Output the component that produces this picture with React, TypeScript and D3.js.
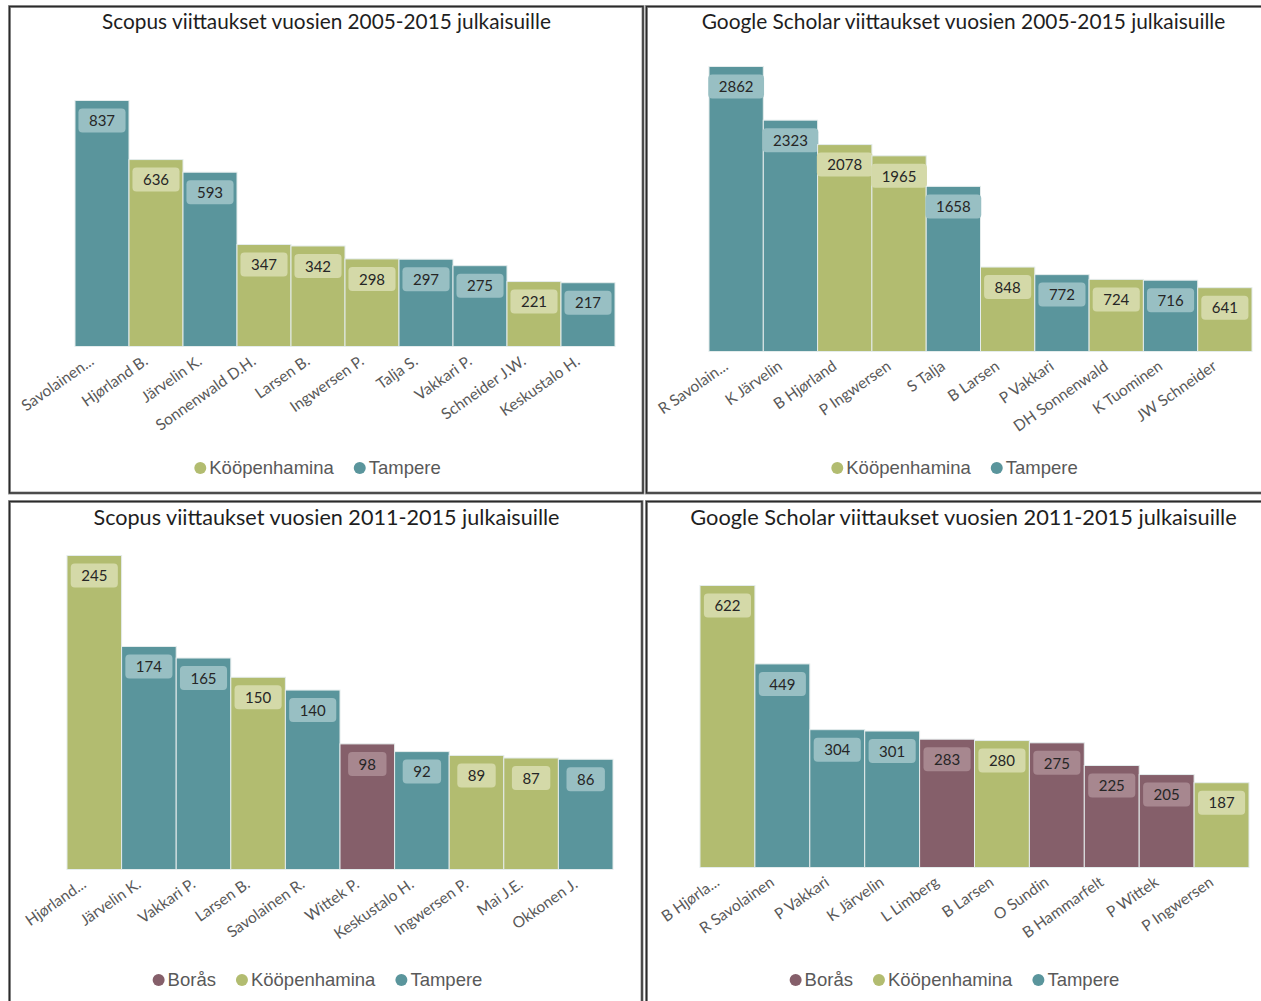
import React from "react";
import * as d3 from "d3";

// ---- data ----
const groups = ["Borås", "Kööpenhamina", "Tampere"];
const groupColors = ["#855F6A", "#B2BC70", "#5A959C"];
const labelBoxColors = ["#A7878F", "#D4D9A8", "#98BFC3"];

const titles = [
  "Scopus viittaukset vuosien 2005-2015 julkaisuille",
  "Google Scholar viittaukset vuosien 2005-2015 julkaisuille",
  "Scopus viittaukset vuosien 2011-2015 julkaisuille",
  "Google Scholar viittaukset vuosien 2011-2015 julkaisuille",
];

const scopus0515Names = ["Savolainen...", "Hjørland B.", "Järvelin K.", "Sonnenwald D.H.", "Larsen B.", "Ingwersen P.", "Talja S.", "Vakkari P.", "Schneider J.W.", "Keskustalo H."];
const scopus0515Values = [837, 636, 593, 347, 342, 298, 297, 275, 221, 217];
const scopus0515Groups = ["Tampere", "Kööpenhamina", "Tampere", "Kööpenhamina", "Kööpenhamina", "Kööpenhamina", "Tampere", "Tampere", "Kööpenhamina", "Tampere"];

const gs0515Names = ["R Savolain...", "K Järvelin", "B Hjørland", "P Ingwersen", "S Talja", "B Larsen", "P Vakkari", "DH Sonnenwald", "K Tuominen", "JW Schneider"];
const gs0515Values = [2862, 2323, 2078, 1965, 1658, 848, 772, 724, 716, 641];
const gs0515Groups = ["Tampere", "Tampere", "Kööpenhamina", "Kööpenhamina", "Tampere", "Kööpenhamina", "Tampere", "Kööpenhamina", "Tampere", "Kööpenhamina"];

const scopus1115Names = ["Hjørland...", "Järvelin K.", "Vakkari P.", "Larsen B.", "Savolainen R.", "Wittek P.", "Keskustalo H.", "Ingwersen P.", "Mai J.E.", "Okkonen J."];
const scopus1115Values = [245, 174, 165, 150, 140, 98, 92, 89, 87, 86];
const scopus1115Groups = ["Kööpenhamina", "Tampere", "Tampere", "Kööpenhamina", "Tampere", "Borås", "Tampere", "Kööpenhamina", "Kööpenhamina", "Tampere"];

const gs1115Names = ["B Hjørla...", "R Savolainen", "P Vakkari", "K Järvelin", "L Limberg", "B Larsen", "O Sundin", "B Hammarfelt", "P Wittek", "P Ingwersen"];
const gs1115Values = [622, 449, 304, 301, 283, 280, 275, 225, 205, 187];
const gs1115Groups = ["Kööpenhamina", "Tampere", "Tampere", "Tampere", "Borås", "Kööpenhamina", "Borås", "Borås", "Borås", "Kööpenhamina"];

const legend0515 = ["Kööpenhamina", "Tampere"];
const legend1115 = ["Borås", "Kööpenhamina", "Tampere"];

// ---- layout ----
const panels = [
  { names: scopus0515Names, values: scopus0515Values, groups: scopus0515Groups, legend: legend0515, title: titles[0], titleSize: 20.8,
    box: [9.5, 6.5, 633.5, 486.5], x0: 75, x1: 615, base: 346.5, top: 100.5, titleY: 29, legendY: 468 },
  { names: gs0515Names, values: gs0515Values, groups: gs0515Groups, legend: legend0515, title: titles[1], titleSize: 20.9,
    box: [646.5, 6.5, 640, 486.5], x0: 709, x1: 1252, base: 351.5, top: 66.5, titleY: 29, legendY: 468 },
  { names: scopus1115Names, values: scopus1115Values, groups: scopus1115Groups, legend: legend1115, title: titles[2], titleSize: 21.6,
    box: [9.5, 501.5, 632.5, 520], x0: 67, x1: 613, base: 869.5, top: 555.5, titleY: 525, legendY: 980 },
  { names: gs1115Names, values: gs1115Values, groups: gs1115Groups, legend: legend1115, title: titles[3], titleSize: 21.8,
    box: [646.5, 501.5, 640, 520], x0: 700, x1: 1249, base: 867.5, top: 585.5, titleY: 525, legendY: 980 },
];

let _ctx: CanvasRenderingContext2D | null = null;
function measure(text: string, font: string): number {
  if (!_ctx) _ctx = document.createElement("canvas").getContext("2d");
  if (!_ctx) return text.length * 8;
  _ctx.font = font;
  return _ctx.measureText(text).width;
}

const LEGEND_FONT = "18.5px 'Liberation Sans', Arial, sans-serif";
const LABEL_FONT = "15px Lato, sans-serif";

function Panel({ p }: { p: typeof panels[number] }) {
  const x = d3.scaleBand<string>().domain(p.names).range([p.x0, p.x1]).padding(0);
  const maxV = d3.max(p.values) as number;
  const y = d3.scaleLinear().domain([0, maxV]).range([p.base, p.top]);
  const color = d3.scaleOrdinal<string, string>().domain(groups).range(groupColors);
  const boxColor = d3.scaleOrdinal<string, string>().domain(groups).range(labelBoxColors);
  const [bx, by, bw, bh] = p.box;
  const panelCenter = p.box[0] + 317;

  // legend layout
  const items = p.legend.map((g) => ({ g, w: measure(g, LEGEND_FONT) }));
  const r = 6;
  const itemGap = 20;
  const totalW = items.reduce((s, it) => s + 2 * r + 3 + it.w, 0) + itemGap * (items.length - 1);
  let lx = panelCenter - 9 - totalW / 2;
  const legendItems = items.map((it) => {
    const o = { ...it, x: lx };
    lx += 2 * r + 3 + it.w + itemGap;
    return o;
  });

  return (
    <g>
      <rect x={bx} y={by} width={bw} height={bh} fill="#fff" stroke="#9a9a9a" strokeWidth={3} />
      <rect x={bx} y={by} width={bw} height={bh} fill="none" stroke="#2b2b2b" strokeWidth={1.4} />
      <text x={panelCenter} y={p.titleY} textAnchor="middle" fontFamily="Lato, sans-serif" fontSize={p.titleSize} fill="#1e1e1e">
        {p.title}
      </text>
      {p.names.map((n, i) => {
        const v = p.values[i];
        const g = p.groups[i];
        const bx0 = x(n) as number;
        const w = x.bandwidth();
        const yt = y(v);
        const label = String(v);
        const lw = measure(label, LABEL_FONT) + 21;
        const cx = bx0 + w / 2;
        return (
          <g key={n}>
            <rect x={bx0} y={yt} width={w} height={p.base - yt} fill={color(g)} stroke="#e4ecec" strokeWidth={1} />
            <rect x={cx - lw / 2} y={yt + 8} width={lw} height={24} rx={4} fill={boxColor(g)} />
            <text x={cx} y={yt + 20.5} dy="0.35em" textAnchor="middle" fontFamily="Lato, sans-serif" fontSize={15} fill="#262626">
              {label}
            </text>
          </g>
        );
      })}
      {p.names.map((n) => {
        const cx = (x(n) as number) + x.bandwidth() / 2;
        return (
          <text key={"l" + n} transform={`translate(${cx - 7},${p.base + 17}) rotate(-35)`} textAnchor="end"
            fontFamily="Lato, sans-serif" fontSize={15.5} fill="#595959">
            {n}
          </text>
        );
      })}
      {legendItems.map((it) => (
        <g key={it.g}>
          <circle cx={it.x + r} cy={p.legendY} r={r} fill={color(it.g)} />
          <text x={it.x + 2 * r + 3} y={p.legendY} dy="0.35em" fontFamily="'Liberation Sans', Arial, sans-serif" fontSize={18.5} fill="#595959">
            {it.g}
          </text>
        </g>
      ))}
    </g>
  );
}

export default function App() {
  return (
    <svg width={1261} height={1001} style={{ position: "absolute", left: 0, top: 0, display: "block", background: "#fff" }}>
      <rect x={0} y={0} width={1261} height={1001} fill="#fff" />
      {panels.map((p, i) => (
        <Panel key={i} p={p} />
      ))}
    </svg>
  );
}
